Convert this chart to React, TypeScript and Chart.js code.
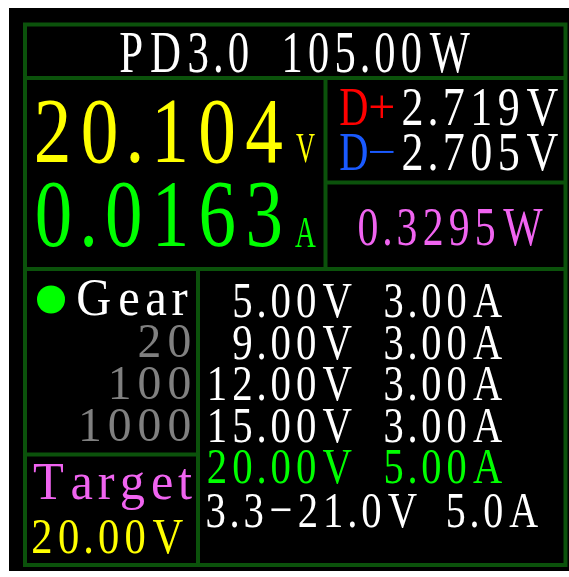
import React, { useEffect, useRef } from "react";
import { Chart, registerables } from "chart.js";

Chart.register(...registerables);

// ---- values shown on the meter ----
const headerText = "PD3.0 105.00W";
const voltageReading = "20.104";
const voltageUnit = "V";
const currentReading = "0.0163";
const currentUnit = "A";
const dPlusLabel = ["D", "+"];
const dPlusReading = "2.719V";
const dMinusLabel = ["D", "−"];
const dMinusReading = "2.705V";
const powerReading = "0.3295W";
const gearLabel = "Gear";
const gearOptions = ["20", "100", "1000"];
const targetLabel = "Target";
const targetVoltage = "20.00V";
const pdoVoltages = ["5.00V", "9.00V", "12.00V", "15.00V", "20.00V"];
const pdoCurrents = ["3.00A", "3.00A", "3.00A", "3.00A", "5.00A"];
const activePdo = 4;
const ppsRange = "3.3−21.0V";
const ppsCurrent = "5.0A";

// ---- styles / layout ----
const FAM = '"Liberation Serif", "DejaVu Serif", serif';
const G = 0.8; // glyph compression inside its advance cell
const C = {
  white: "#ffffff",
  yellow: "#ffff00",
  green: "#00ff00",
  red: "#ff0000",
  blue: "#1a5aff",
  violet: "#f064f0",
  gray: "#808080",
  frame: "#0b520b",
  bg: "#000000",
};

type Lay = { chars: string[]; adv: number[]; p: number[]; L: number; R: number };

function layoutText(ctx: CanvasRenderingContext2D, text: string, size: number, g: number): Lay {
  ctx.font = `${size}px ${FAM}`;
  const chars = Array.from(text);
  const adv: number[] = [];
  const p: number[] = [];
  let acc = 0;
  let L = Infinity;
  let R = -Infinity;
  chars.forEach((ch) => {
    const m = ctx.measureText(ch);
    const a = m.width;
    const c = acc + a / 2;
    adv.push(a);
    p.push(c);
    if (ch.trim() !== "") {
      const l = -m.actualBoundingBoxLeft - a / 2;
      const r = m.actualBoundingBoxRight - a / 2;
      L = Math.min(L, c + g * l);
      R = Math.max(R, c + g * r);
    }
    acc += a;
  });
  return { chars, adv, p, L, R };
}

function sizeFor(ctx: CanvasRenderingContext2D, text: string, h: number) {
  ctx.font = `100px ${FAM}`;
  const m = ctx.measureText(text);
  return (100 * h) / m.actualBoundingBoxAscent;
}

function drawSpaced(
  ctx: CanvasRenderingContext2D,
  text: string,
  x: number,
  align: "left" | "right",
  base: number,
  size: number,
  sx: number,
  color: string,
  g: number = G
) {
  const lay = layoutText(ctx, text, size, g);
  const w = (lay.R - lay.L) * sx;
  const x0 = align === "left" ? x : x - w;
  ctx.save();
  ctx.fillStyle = color;
  ctx.textBaseline = "alphabetic";
  ctx.textAlign = "left";
  ctx.font = `${size}px ${FAM}`;
  lay.chars.forEach((ch, i) => {
    if (ch.trim() === "") return;
    ctx.save();
    ctx.translate(x0 + sx * (lay.p[i] - lay.L), base);
    ctx.scale(sx * g, 1);
    ctx.fillText(ch, -lay.adv[i] / 2, 0);
    ctx.restore();
  });
  ctx.restore();
}

function fitParams(ctx: CanvasRenderingContext2D, text: string, x0: number, x1: number, top: number, base: number, g: number = G) {
  const size = sizeFor(ctx, text, base - top);
  const lay = layoutText(ctx, text, size, g);
  return { size, sx: (x1 - x0) / (lay.R - lay.L) };
}

function drawFit(ctx: CanvasRenderingContext2D, text: string, x0: number, x1: number, top: number, base: number, color: string, g: number = G) {
  const p = fitParams(ctx, text, x0, x1, top, base, g);
  drawSpaced(ctx, text, x0, "left", base, p.size, p.sx, color, g);
}

// a single glyph whose ink is stretched to the box x0..x1, y0..y1
function drawGlyphBox(ctx: CanvasRenderingContext2D, ch: string, x0: number, x1: number, y0: number, y1: number, color: string, fontPx: number) {
  ctx.save();
  ctx.font = `${fontPx}px ${FAM}`;
  ctx.textBaseline = "alphabetic";
  ctx.textAlign = "left";
  const m = ctx.measureText(ch);
  const w = m.actualBoundingBoxLeft + m.actualBoundingBoxRight;
  const h = m.actualBoundingBoxAscent + m.actualBoundingBoxDescent;
  ctx.fillStyle = color;
  ctx.translate(x0, y0);
  ctx.scale((x1 - x0) / w, (y1 - y0) / h);
  ctx.fillText(ch, m.actualBoundingBoxLeft, m.actualBoundingBoxAscent);
  ctx.restore();
}

const panelPlugin = {
  id: "meterPanel",
  beforeDraw(chart: any) {
    const ctx: CanvasRenderingContext2D = chart.ctx;
    const X = (v: number) => chart.scales.x.getPixelForValue(v);
    const Y = (v: number) => chart.scales.y.getPixelForValue(v);

    ctx.save();
    ctx.fillStyle = "#ffffff";
    ctx.fillRect(0, 0, chart.width, chart.height);
    ctx.fillStyle = C.bg;
    ctx.fillRect(X(9), Y(8), X(569) - X(9), Y(571) - Y(8));

    // frame lines
    ctx.strokeStyle = C.frame;
    ctx.lineWidth = 4;
    ctx.strokeRect(X(25), Y(24.5), X(565.5) - X(25), Y(565) - Y(24.5));
    const seg = (x0: number, y0: number, x1: number, y1: number) => {
      ctx.beginPath();
      ctx.moveTo(X(x0), Y(y0));
      ctx.lineTo(X(x1), Y(y1));
      ctx.stroke();
    };
    seg(25, 78, 565.5, 78);
    seg(325.5, 78, 325.5, 269);
    seg(325.5, 182.5, 565.5, 182.5);
    seg(25, 269, 565.5, 269);
    seg(198, 269, 198, 565);
    seg(25, 454.5, 198, 454.5);

    // header (two words)
    const [hw1, hw2] = headerText.split(" ");
    drawFit(ctx, hw1, X(120), X(248), Y(33), Y(72), C.white);
    drawFit(ctx, hw2, X(285), X(470), Y(33), Y(72), C.white);

    // main readings
    drawFit(ctx, voltageReading, X(37), X(282), Y(101), Y(162), C.yellow);
    drawFit(ctx, voltageUnit, X(296), X(315), Y(135), Y(162), C.yellow, 1);
    drawFit(ctx, currentReading, X(37), X(280), Y(183), Y(246), C.green);
    drawFit(ctx, currentUnit, X(295), X(316), Y(218), Y(247), C.green, 1);

    // D+ / D-
    drawFit(ctx, dPlusLabel[0], X(340), X(367), Y(89), Y(125), C.red, 1);
    drawGlyphBox(ctx, dPlusLabel[1], X(370), X(394), Y(95), Y(119), C.red, 26);
    drawFit(ctx, dPlusReading, X(403), X(558), Y(89), Y(125), C.white);
    drawFit(ctx, dMinusLabel[0], X(340), X(367), Y(134), Y(170), C.blue, 1);
    drawGlyphBox(ctx, dMinusLabel[1], X(370), X(394), Y(149.5), Y(152.5), C.blue, 40);
    drawFit(ctx, dMinusReading, X(403), X(558), Y(134), Y(170), C.white);

    // power
    drawFit(ctx, powerReading, X(359), X(543), Y(209), Y(245), C.violet);

    // gear block
    ctx.fillStyle = C.green;
    ctx.beginPath();
    ctx.arc(X(51), Y(299.5), 14, 0, Math.PI * 2);
    ctx.fill();
    drawFit(ctx, gearLabel, X(78), X(188), Y(280), Y(315), C.white);
    const gearBases = [357, 399, 441];
    const gp = fitParams(ctx, gearOptions[2], X(82), X(190), Y(409), Y(441));
    gearOptions.forEach((g, i) => {
      drawSpaced(ctx, g, X(190), "right", Y(gearBases[i]), gp.size, gp.sx, C.gray);
    });

    // target
    drawFit(ctx, targetLabel, X(33), X(192), Y(464), Y(499), C.violet);
    drawFit(ctx, targetVoltage, X(33), X(183), Y(519), Y(553), C.yellow);

    // PDO table
    const rowBases = [317, 359, 400, 442, 483];
    const vp = fitParams(ctx, "12.00V", X(210), X(352), Y(367), Y(400));
    const ap = fitParams(ctx, "3.00A", X(385), X(502), Y(367), Y(400));
    pdoVoltages.forEach((v, i) => {
      const col = i === activePdo ? C.green : C.white;
      drawSpaced(ctx, v, X(352), "right", Y(rowBases[i]), vp.size, vp.sx, col);
      drawSpaced(ctx, pdoCurrents[i], X(385), "left", Y(rowBases[i]), ap.size, ap.sx, col);
    });
    drawFit(ctx, ppsRange, X(207), X(417), Y(493), Y(527), C.white);
    drawFit(ctx, ppsCurrent, X(448), X(538), Y(493), Y(527), C.white);

    ctx.restore();
  },
};

export default function App() {
  const ref = useRef<HTMLCanvasElement | null>(null);
  useEffect(() => {
    document.body.style.margin = "0";
    const canvas = ref.current;
    if (!canvas) return;
    const chart = new Chart(canvas, {
      type: "scatter",
      data: { datasets: [{ data: [], pointRadius: 0 }] },
      options: {
        animation: false,
        responsive: false,
        devicePixelRatio: 1,
        layout: { padding: 0 },
        plugins: { legend: { display: false }, tooltip: { enabled: false } },
        scales: {
          x: { type: "linear", min: 0, max: 569, display: false },
          y: { type: "linear", min: 0, max: 577, reverse: true, display: false },
        },
      },
      plugins: [panelPlugin],
    });
    return () => chart.destroy();
  }, []);
  return (
    <div style={{ width: 569, height: 577 }}>
      <canvas ref={ref} width={569} height={577} style={{ display: "block" }} />
    </div>
  );
}
